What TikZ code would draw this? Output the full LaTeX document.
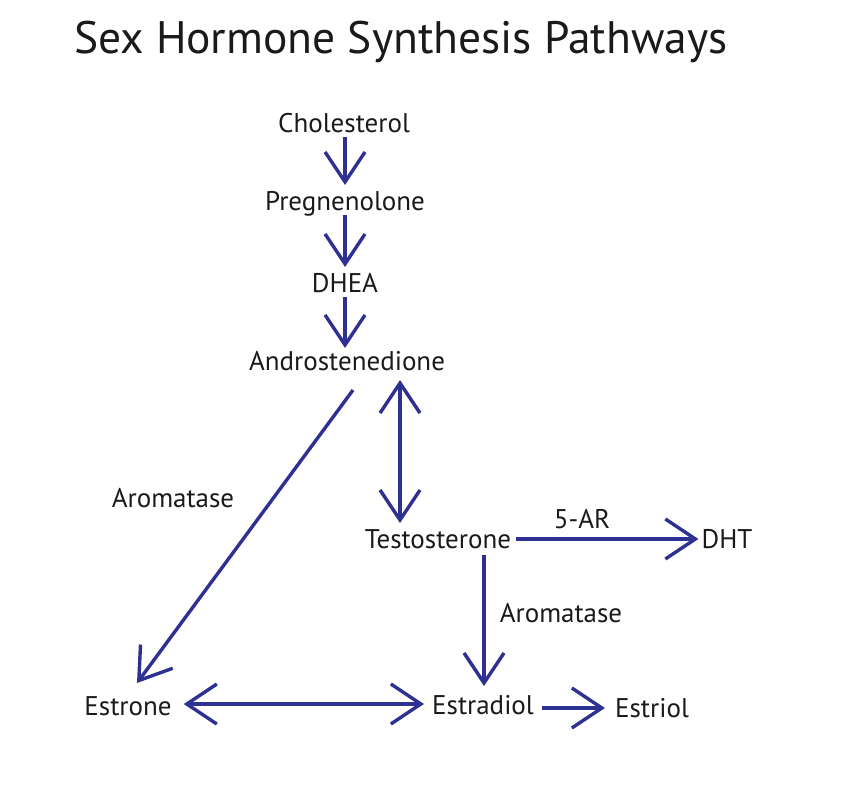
\documentclass[tikz,border=0pt]{standalone}
\usepackage{fontspec}
\setmainfont{PT Sans}
\usepackage{xcolor}
\definecolor{PathBlue}{HTML}{2E3192}
\definecolor{DarkGrey}{HTML}{1A1A1A}
\usepackage{tikz}
\usetikzlibrary{calc,arrows.meta,bending,positioning}
\newcommand\LabelSize{\fontsize{27}{30}\selectfont}
\newcommand\TitleSize{\fontsize{45.5}{52}\selectfont}
\tikzstyle{hormone}=[inner sep=0pt,anchor=base,text=DarkGrey,font=\LabelSize]
\tikzstyle{enzyme}=[inner sep=0pt,anchor=base,text=DarkGrey,font=\LabelSize]
\tikzstyle{flow}=[draw=PathBlue,line width=3.4pt,
                  -{Straight Barb[bend,length=30pt,width=40pt,line width=3.4pt]}]
\tikzstyle{flowboth}=[flow,
                  {Straight Barb[bend,length=30pt,width=40pt,line width=3.4pt]}-{Straight Barb[bend,length=30pt,width=40pt,line width=3.4pt]}]

\begin{document}
\begin{tikzpicture}[x=1pt,y=-1pt]
      \useasboundingbox (0,0) rectangle (858,785);
      \node[anchor=base west,inner sep=0pt,text=DarkGrey,font=\TitleSize] (title) at (74,53) {Sex Hormone Synthesis Pathways};
      % steroid chain
      \node[hormone] (chol) at (344,132) {Cholesterol};
      \node[hormone] (preg) at (345,210) {Pregnenolone};
      \node[hormone] (dhea) at (345,292) {DHEA};
      \node[hormone] (andro) at (347,370) {Androstenedione};
      \node[hormone] (testo) at (438,548) {Testosterone};
      \node[hormone] (dht) at (727,548) {DHT};
      \node[hormone] (estrone) at (128,715) {Estrone};
      \node[hormone] (estradiol) at (483,714) {Estradiol};
      \node[hormone] (estriol) at (652,717) {Estriol};
      % enzymes
      \node[enzyme] (aroleft) at (173,507) {Aromatase};
      \node[enzyme] (fivear) at (582,528) {5-AR};
      \node[enzyme] (aroright) at (561,622) {Aromatase};
      % arrows
      \draw[flow] ($(chol.base)+(1,5)$) -- ($(preg.base)+(0,-25)$);
      \draw[flow] ($(preg.base)+(0,5)$) -- ($(dhea.base)+(0,-25)$);
      \draw[flow] ($(dhea.base)+(0,5)$) -- ($(andro.base)+(-2,-22)$);
      \draw[flowboth] ($(andro.base)+(53,10)$) -- ($(testo.base)+(-38,-25)$);
      \draw[flow] ($(andro.base)+(6,20)$) -- ($(estrone.base)+(9,-32)$);
      \draw[flow] ($(testo.base east)+(5,-9)$) -- ($(dht.base west)+(-3,-9)$);
      \draw[flow] ($(testo.base)+(46,7)$) -- ($(estradiol.base)+(1,-28)$);
      \draw[flowboth] ($(estrone.base east)+(12,-11)$) -- ($(estradiol.base west)+(-8,-10)$);
      \draw[flow] ($(estradiol.base east)+(8,-6)$) -- ($(estriol.base west)+(-10,-9)$);
   \end{tikzpicture}
\end{document}
